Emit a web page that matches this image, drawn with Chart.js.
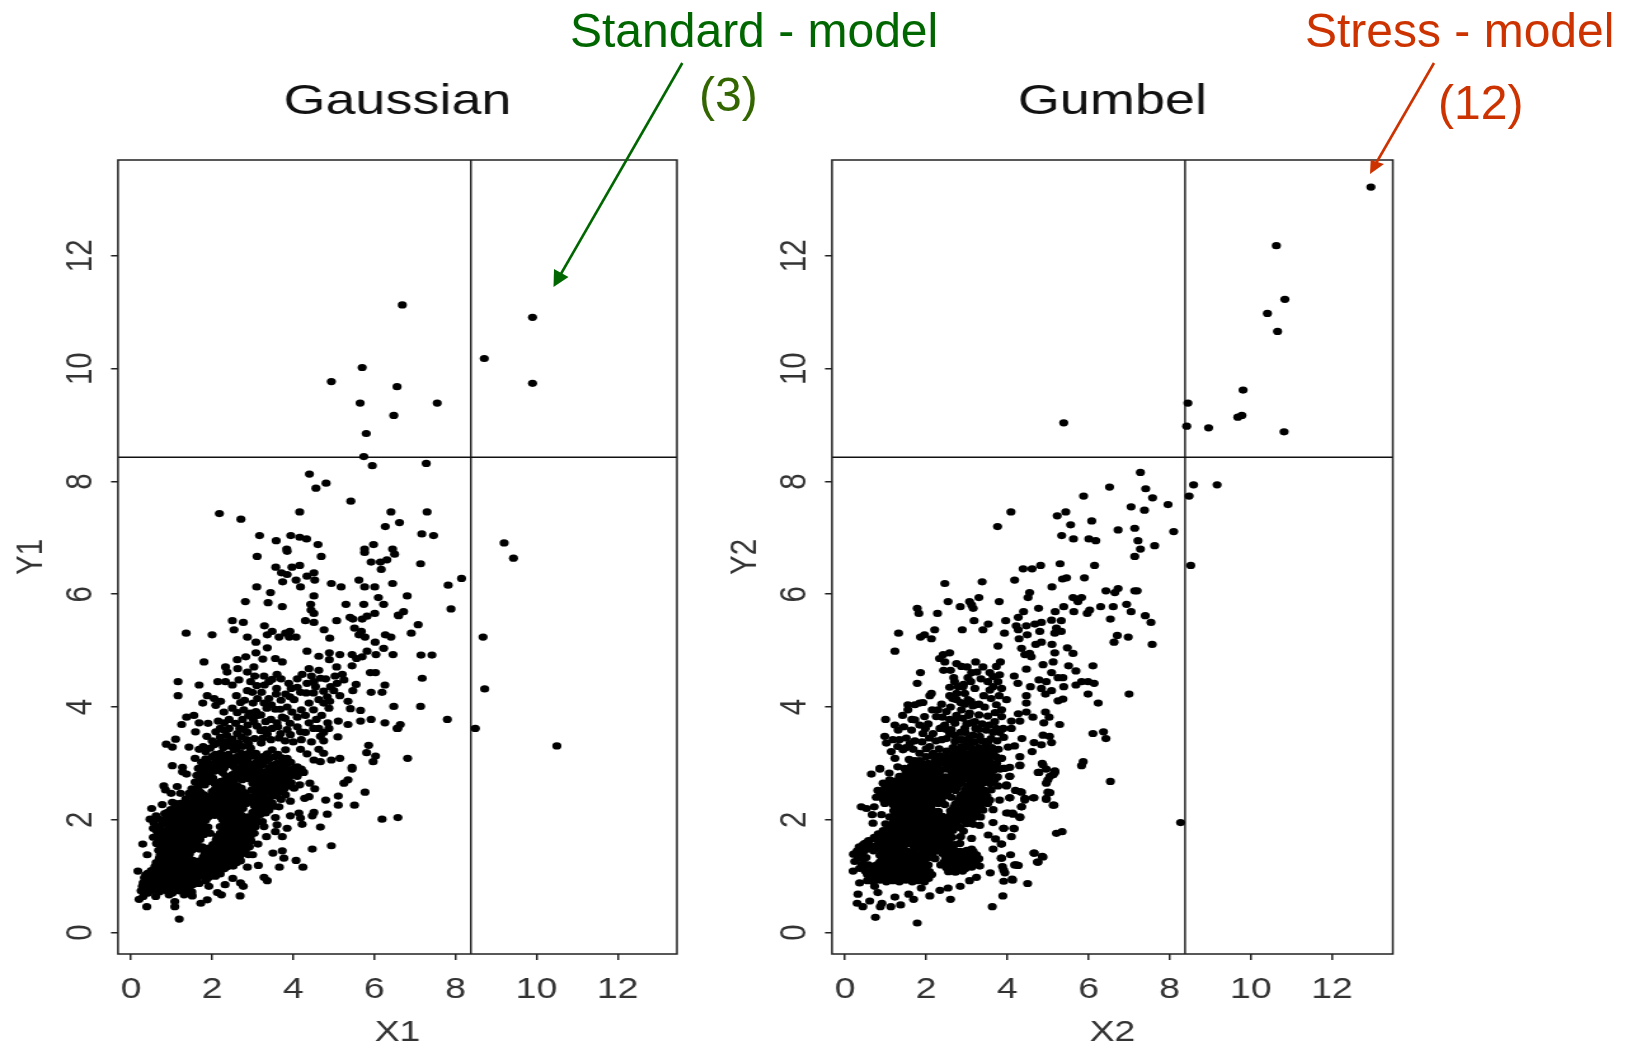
<!DOCTYPE html>
<html>
<head>
<meta charset="utf-8">
<title>Gaussian vs Gumbel</title>
<script src="https://cdn.jsdelivr.net/npm/chart.js@4/dist/chart.umd.min.js"></script>
<style>
  html, body { margin: 0; padding: 0; background: #fff; width: 1635px; height: 1048px; overflow: hidden; }
  canvas { position: absolute; top: 40px; transform-origin: 0 0; transform: scaleX(1.27); }
  #left-chart { left: 0; }
  #right-chart { left: 714px; }
  .note { position: absolute; font: 48px "Liberation Sans", Arial, sans-serif; line-height: 56px; white-space: nowrap; }
  svg { position: absolute; left: 0; top: 0; }
</style>
</head>
<body>
<canvas id="left-chart" width="590" height="1008"></canvas>
<canvas id="right-chart" width="590" height="1008"></canvas>

<div class="note" style="left:570px;top:3px;color:#006600">Standard - model</div>
<div class="note" style="left:699px;top:67px;color:#336600">(3)</div>
<div class="note" style="left:1305px;top:3px;color:#cc3300">Stress - model</div>
<div class="note" style="left:1438px;top:75px;color:#cc3300">(12)</div>

<svg width="1635" height="1048">
  <line x1="682.3" y1="63" x2="558" y2="279" stroke="#006600" stroke-width="2.6"/>
  <polygon points="553.5,287 554,269 568.5,277" fill="#006600"/>
  <line x1="1434" y1="63" x2="1375" y2="165" stroke="#cc3300" stroke-width="2.6"/>
  <polygon points="1370,174 1370.7,160 1384,164" fill="#cc3300"/>
</svg>

<script>
// tick labels and axis limits
const xTicks = [0, 2, 4, 6, 8, 10, 12];
const yTicks = [0, 2, 4, 6, 8, 10, 12];
const xMin = -0.32, yMin = -0.38, yMax = 13.7;
const gaussianXMax = 13.46, gumbelXMax = 13.5;
// quantile lines
const cutX = 8.38;
const cutY = 8.43;

// all point lists are flat: x, y, x, y, ...
// Gaussian - sparse points above y = 6.7
const gaussianUpper = [6.69,11.13,9.9,10.91,8.71,10.18,9.9,9.74,5.7,10.02,4.94,9.77,6.56,9.68,5.65,9.39,7.55,9.39,6.48,9.17,5.8,8.85,5.74,8.44,5.95,8.28,7.28,8.32,4.4,8.13,4.81,7.97,4.56,7.88,5.42,7.65,2.18,7.43,2.71,7.33,4.16,7.46,6.41,7.46,7.3,7.46,6.62,7.27,6.27,7.2,7.17,7.07,7.46,7.04,9.2,6.91,3.17,7.04,3.58,6.95,3.94,7.04,4.16,7.01,4.33,6.98,4.61,6.88,5.98,6.88,3.84,6.8,5.76,6.8,6.45,6.8];
// Gaussian - middle band
const gaussianMiddle = [3.11,6.67,3.85,6.76,4.69,6.67,5.76,6.74,6.5,6.71,3.57,6.48,3.97,6.48,4.16,6.51,5.92,6.57,6.15,6.57,6.31,6.61,6.17,6.44,3.71,6.38,3.85,6.35,4.51,6.38,4.34,6.32,4.53,6.25,3.74,6.22,4.07,6.25,4.18,6.13,3.1,6.13,3.44,6.03,4.94,6.19,5.18,6.13,5.62,6.25,5.76,6.13,6.01,6.13,6.45,6.19,4.51,5.97,6.1,5.94,2.82,5.87,3.38,5.85,3.73,5.78,4.43,5.82,5.3,5.82,5.74,5.82,6.23,5.82,4.44,5.72,4.51,5.66,2.5,5.53,2.77,5.5,4.3,5.53,4.51,5.5,5.07,5.53,5.4,5.59,5.47,5.56,5.7,5.56,5.82,5.61,6.01,5.66,6.59,5.63,3.29,5.44,2.54,5.37,1.36,5.31,2,5.28,3.48,5.34,3.36,5.28,2.87,5.24,3.65,5.24,3.81,5.31,3.92,5.34,3.9,5.24,4.07,5.24,4.76,5.37,4.9,5.22,5.51,5.4,5.62,5.28,5.68,5.34,5.77,5.24,6.27,5.28,6.41,5.24,3.08,5.15,6.02,5.15,3.36,5.05,6.23,5.04,4.34,4.99,3.08,4.96,4.63,4.9,4.89,4.96,5.15,4.93,5.45,4.93,5.82,4.99,5.7,4.89,5.56,4.86,6.04,4.93,6.46,4.93,1.8,4.8,2.62,4.84,2.83,4.89,3.25,4.85,3.56,4.86,3.73,4.8,4.89,4.84,5.45,4.73,2.33,4.71,2.63,4.68,3.03,4.71,5.07,4.71,4.39,4.68,4.63,4.65,2.37,4.62,2.87,4.62,3.05,4.55,5.9,4.61,6.03,4.61,4.22,4.58,3.6,4.58,3.28,4.55,3.48,4.49,5.21,4.58,5.03,4.55,1.16,4.45,1.68,4.39,2.14,4.45,2.33,4.45,2.5,4.39,2.66,4.48,2.95,4.45,3.29,4.39,3.89,4.42,3.95,4.33,3.59,4.33,4.34,4.42,4.51,4.45,4.67,4.51,4.55,4.36,4.92,4.36,5.08,4.42,5.25,4.48,6.26,4.39,1.16,4.2,5.47,4.29,5.92,4.26,6.19,4.26,1.88,4.2,2.05,4.15,2.21,4.1,2.6,4.2,2.87,4.29,2.99,4.26,3.22,4.26,3.58,4.23,3.81,4.23,4.18,4.26,4.02,4.13,4.63,4.13,4.84,4.18,5,4.29,5.15,4.2,1.77,4.07,2.09,4.03,2.5,3.98,2.7,4.08,3.01,4.07,3.28,4.07,3.46,4.04,3.56,3.96,4.39,4.07,4.75,4.07,4.88,3.98,6.48,4.01,5.41,3.97,5.66,3.94,2.29,3.91,2.95,3.89,3.2,3.86,3.97,3.91,4.2,3.95,1.37,3.82,1.55,3.85,3.73,3.82,2.42,3.78,3.03,3.74,3.32,3.74,4.57,3.78,5.11,3.75,5.66,3.75,5.92,3.78,1.25,3.69,1.68,3.72,1.9,3.71,2.58,3.71,3.11,3.66,3.48,3.62,3.92,3.71,4.39,3.72,5.35,3.69,6.26,3.72,6.56,3.62,1.59,3.56,2.09,3.56,2.29,3.59,2.62,3.53,2.87,3.55,3.69,3.53,3.93,3.51,4.18,3.56,4.63,3.62,4.88,3.62,4.67,3.48,5.1,3.47,1.1,3.43,1.87,3.48,0.87,3.34,1.02,3.29,1.43,3.29,1.68,3.25,2.05,3.33,2.41,3.39,2.66,3.36,3.21,3.36,3.65,3.45,5.86,3.32,5.81,3.19,6.03,3.13,5.97,3.03,1.58,3.09,1.84,3.21,2.21,3.18,2.54,3.24,2.95,3.27,3.48,3.24,3.36,3.17,3.81,3.24,4.18,3.25,4.63,3.25,4.75,3.18,3.85,3.09,4.34,3.17,4.51,3.06,4.67,3.03,4.94,3.06,5.15,3.09,1.02,2.96,1.27,2.93,2.05,3,2.54,3,2.87,3.06,3.2,3,3.77,3,4.1,2.94,5.45,2.93];
// Gaussian - right of the cloud
const gaussianRight = [7.14,6.54,9.43,6.64,8.15,6.28,7.82,6.16,6.81,5.97,7.89,5.74,6.72,5.69,6.6,5.62,7.08,5.46,6.91,5.31,8.68,5.24,7.15,4.92,7.42,4.92,7.18,4.51,8.72,4.32,7.14,4.01,7.8,3.78,6.64,3.69,6.58,3.62,8.49,3.62,10.5,3.31,6.82,3.09,6.19,2.01,6.58,2.04];
// Gaussian - outline of the dense cloud
const gaussianEdge = [1.27,2.85,1.37,2.81,0.81,2.6,0.85,2.53,0.99,2.47,1.14,2.59,1.22,2.47,1.43,2.47,0.51,2.2,0.77,2.27,1.08,2.29,0.83,2.11,0.47,2.01,0.69,2.01,0.55,1.85,0.73,1.85,0.55,1.69,0.29,1.57,0.4,1.38,0.72,1.38,0.67,1.18,0.17,1.09,0.36,1.02,0.28,0.82,0.57,0.96,0.3,0.64,0.2,0.59,0.39,0.46,0.61,0.64,0.94,0.67,1.08,0.46,1.08,0.55,1.19,0.24,1.72,0.52,1.88,0.58,2.13,0.71,2.23,0.67,2.69,0.65,1.31,0.67,1.51,0.65,1.92,0.82,2.32,0.85,2.51,0.96,2.7,0.88,2.77,0.82,3.28,0.98,3.36,0.92,2.87,1.16,3.14,1.19,3.66,1.16,4.24,1.16,4.07,1.28,3.77,1.32,3.5,1.41,3.73,1.45,3,1.38,3.13,1.57,4.47,1.48,4.94,1.54,3.73,1.7,3.56,1.79,3.34,1.7,3.28,1.88,3.85,1.85,4.67,1.87,4.22,1.92,4.84,2.1,4.51,2.13,4.47,2.07,4.14,2.12,3.93,2.07,4.18,2.03,3.56,2.04,3.18,2.09,3.24,1.97,3.6,1.91,3.65,2.23,5.51,2.26,5.11,2.26,5.11,2.42,4.8,2.35,5.77,2.49,4.39,2.41,4.28,2.38,3.93,2.33,3.81,2.44,3.48,2.42,3.28,2.36,4.53,2.55,4.41,2.65,5.25,2.65,5.35,2.71,5.45,2.9,4.26,2.84,4.16,2.62,4.02,2.56,4.1,2.77,3.85,2.65,3.69,2.59,3.52,2.74,3.4,2.91,3.11,2.47,3.19,2.62,2.95,2.74,2.7,2.83,2.54,2.94,2.46,2.71];
// Gaussian - dense cloud, read row by row
const gaussianCore = [0.25,0.74,0.42,0.7,0.55,0.75,0.7,0.72,0.88,0.74,1.02,0.7,1.18,0.74,1.35,0.76,1.5,0.72,
0.3,0.88,0.45,0.83,0.6,0.86,0.76,0.84,0.92,0.87,1.06,0.83,1.2,0.86,1.36,0.88,1.52,0.85,1.68,0.87,
0.33,0.97,0.5,1,0.66,0.97,0.82,1,0.98,0.96,1.12,1,1.28,0.97,1.44,1,1.6,0.97,1.76,1,1.92,0.98,2.08,1,
0.5,1.1,0.68,1.12,0.84,1.09,1,1.12,1.16,1.1,1.33,1.12,1.49,1.09,1.66,1.12,1.82,1.1,1.98,1.12,2.14,1.1,2.3,1.13,
0.62,1.24,0.8,1.21,0.96,1.24,1.12,1.21,1.28,1.24,1.45,1.21,1.62,1.24,1.78,1.21,1.94,1.24,2.1,1.21,2.27,1.24,2.44,1.22,2.6,1.24,
0.7,1.32,0.86,1.34,1.03,1.31,1.2,1.34,1.36,1.31,1.85,1.33,2.02,1.31,2.18,1.34,2.35,1.31,2.52,1.34,2.68,1.31,1.78,1.34,
0.68,1.46,0.85,1.44,1.02,1.47,1.18,1.44,1.34,1.47,1.5,1.46,1.68,1.48,1.84,1.45,2,1.47,2.16,1.44,2.33,1.47,2.5,1.44,2.66,1.47,2.82,1.46,
0.63,1.58,0.8,1.56,0.97,1.59,1.13,1.56,1.3,1.59,1.46,1.56,1.63,1.59,2.02,1.56,2.2,1.59,2.36,1.56,2.52,1.59,2.7,1.56,2.86,1.59,
0.74,1.7,0.9,1.68,1.07,1.71,1.24,1.68,1.4,1.71,1.56,1.68,1.72,1.72,2.12,1.7,2.28,1.68,2.45,1.71,2.62,1.68,2.78,1.7,2.94,1.68,
0.62,1.82,0.86,1.8,1.02,1.83,1.18,1.8,1.34,1.83,1.5,1.8,1.67,1.83,1.83,1.8,2.3,1.82,2.46,1.8,2.63,1.83,2.8,1.8,2.96,1.82,
0.56,1.95,0.78,1.93,0.95,1.96,1.12,1.93,1.28,1.96,1.44,1.93,1.6,1.96,1.76,1.93,2.32,1.94,2.5,1.95,2.66,1.92,2.84,1.96,3,1.93,3.1,1.95,
0.62,2.07,0.92,2.05,1.08,2.08,1.25,2.05,1.41,2.08,1.58,2.05,1.74,2.08,1.9,2.05,2.06,2.08,2.22,2.05,2.38,2.08,2.55,2.05,2.72,2.08,2.88,2.05,3.04,2.08,
0.98,2.18,1.15,2.2,1.32,2.17,1.48,2.2,1.64,2.17,1.8,2.2,1.96,2.17,2.12,2.2,2.28,2.17,2.44,2.2,2.6,2.17,2.76,2.2,3.08,2.17,3.25,2.2,3.4,2.17,
1.02,2.31,1.22,2.29,1.38,2.32,1.55,2.29,1.72,2.32,1.88,2.29,2.04,2.32,2.2,2.29,2.36,2.32,2.52,2.29,2.68,2.32,2.84,2.29,3,2.32,3.16,2.29,3.32,2.31,3.48,2.3,
1.48,2.43,1.64,2.41,1.8,2.44,1.96,2.41,2.12,2.44,2.28,2.41,2.44,2.44,2.6,2.41,2.76,2.44,2.92,2.41,3.08,2.44,3.24,2.43,3.6,2.42,
1.5,2.55,1.66,2.53,2.08,2.55,2.24,2.53,2.4,2.56,2.56,2.53,2.72,2.56,2.98,2.53,3.14,2.56,3.3,2.53,3.46,2.56,3.62,2.53,3.78,2.55,
1.58,2.67,1.74,2.65,1.9,2.68,2.06,2.65,2.22,2.68,2.38,2.65,2.54,2.68,3,2.65,3.16,2.68,3.32,2.65,3.48,2.68,3.64,2.65,3.95,2.66,
1.62,2.79,1.78,2.77,1.94,2.8,2.34,2.77,2.5,2.8,2.66,2.77,2.82,2.8,2.98,2.77,3.14,2.8,3.3,2.77,3.46,2.8,3.62,2.77,3.78,2.8,3.94,2.78,
1.66,2.91,1.82,2.89,1.98,2.92,2.14,2.89,2.3,2.92,2.66,2.89,2.84,2.92,3,2.89,3.16,2.92,3.56,2.89,3.72,2.92,3.88,2.89,4.04,2.92,4.2,2.9,
1.74,3.02,1.92,3,2.1,3.03,2.3,3,2.72,3.03,3.06,3,3.3,3.03,3.6,3,3.94,3.02,
2,3.12,2.15,3.1,2.32,3.13,2.48,3.1,2.64,3.13,2.8,3.1,3,3.13,3.12,3.1,3.55,3.12,3.72,3.1,
1.78,3.3,1.95,3.27,2.28,3.28,2.44,3.31,2.6,3.27,2.75,3.3,2.9,3.35,2.2,3.46,2.36,3.5,2.5,3.43,2.72,3.47,2.78,3.6,3,3.8,3.12,3.85,3.3,3.6];
// Gaussian - points between the rows of the core
const gaussianFill = [0.33,0.79,0.51,0.78,0.66,0.8,0.81,0.77,0.97,0.8,1.12,0.78,1.28,0.8,1.44,0.81,
0.4,0.93,0.54,0.91,0.69,0.92,0.85,0.93,1,0.92,1.15,0.91,1.31,0.93,1.47,0.91,1.63,0.92,1.85,0.92,
0.41,1.05,0.6,1.05,0.75,1.04,0.91,1.06,1.05,1.05,1.21,1.04,1.37,1.06,1.52,1.04,1.69,1.05,1.85,1.04,2.01,1.06,2.2,1.04,
0.59,1.17,0.77,1.16,0.92,1.17,1.08,1.15,1.25,1.17,1.41,1.16,1.58,1.18,1.74,1.16,1.9,1.17,2.06,1.15,2.22,1.17,2.38,1.17,2.52,1.18,
0.72,1.27,0.89,1.28,1.04,1.26,1.2,1.28,1.37,1.27,1.53,1.28,1.7,1.27,1.86,1.28,2.03,1.27,2.19,1.28,2.36,1.26,2.52,1.28,2.7,1.27,
0.77,1.39,0.94,1.4,1.11,1.38,1.28,1.4,1.44,1.39,1.82,1.4,1.94,1.38,2.1,1.4,2.26,1.38,2.43,1.4,2.6,1.38,2.76,1.4,2.9,1.38,
0.75,1.52,0.92,1.5,1.1,1.53,1.26,1.5,1.42,1.52,1.58,1.51,1.76,1.52,1.92,1.5,2.08,1.52,2.25,1.5,2.42,1.53,2.58,1.5,2.75,1.52,2.92,1.52,
0.7,1.63,0.88,1.63,1.05,1.65,1.22,1.63,1.38,1.65,1.54,1.62,1.7,1.65,2.1,1.64,2.28,1.62,2.44,1.65,2.61,1.62,2.78,1.64,2.96,1.62,
0.66,1.76,0.82,1.75,0.98,1.77,1.15,1.74,1.31,1.77,1.47,1.74,1.63,1.77,1.8,1.74,1.95,1.76,2.2,1.76,2.37,1.74,2.54,1.77,2.7,1.74,2.88,1.76,3.04,1.76,
0.68,1.88,0.94,1.87,1.1,1.9,1.26,1.87,1.42,1.9,1.58,1.87,1.74,1.9,1.9,1.87,2.2,1.88,2.38,1.87,2.55,1.9,2.72,1.87,2.9,1.88,3.06,1.87,
0.85,2,1.03,2.02,1.2,1.99,1.36,2.02,1.52,1.99,1.68,2.02,1.84,1.99,2.26,2,2.42,2.01,2.58,1.98,2.76,2.01,2.92,1.99,3.08,2.01,
0.9,2.13,1.06,2.14,1.24,2.12,1.4,2.14,1.56,2.12,1.72,2.14,1.88,2.12,2.04,2.14,2.2,2.12,2.36,2.14,2.52,2.12,2.68,2.14,3,2.13,3.16,2.14,3.32,2.12,
1.1,2.25,1.3,2.24,1.46,2.26,1.62,2.24,1.78,2.26,1.94,2.24,2.1,2.26,2.26,2.24,2.42,2.26,2.58,2.24,2.74,2.26,3.04,2.25,3.2,2.24,3.36,2.26,3.52,2.24,
1.35,2.37,1.56,2.36,1.72,2.38,1.88,2.36,2.04,2.38,2.2,2.36,2.36,2.38,2.52,2.36,2.68,2.38,2.84,2.36,3,2.38,3.16,2.36,3.4,2.38,3.7,2.36,
1.56,2.49,1.72,2.48,2,2.5,2.16,2.48,2.32,2.5,2.48,2.48,2.64,2.5,2.8,2.48,3.06,2.5,3.22,2.48,3.38,2.5,3.54,2.48,3.7,2.5,
1.65,2.6,1.82,2.62,2.14,2.61,2.3,2.6,2.46,2.62,2.62,2.6,3.08,2.61,3.24,2.6,3.4,2.62,3.56,2.6,3.72,2.62,3.88,2.6,
1.7,2.72,1.86,2.73,2.02,2.74,2.42,2.72,2.58,2.74,2.74,2.71,2.9,2.73,3.06,2.72,3.22,2.74,3.38,2.72,3.54,2.74,3.7,2.72,3.86,2.74,
1.74,2.85,1.9,2.84,2.06,2.86,2.26,2.84,2.58,2.84,2.76,2.86,2.92,2.84,3.08,2.86,3.24,2.85,3.4,2.84,3.64,2.85,3.8,2.84,3.96,2.86,4.12,2.84,
1.76,2.97,1.9,2.96,2.06,2.98,2.22,2.96,2.38,2.98,2.74,2.96,2.92,2.98,3.08,2.96,3.24,2.98,3.48,2.97,3.68,2.96,3.84,2.98,
1.84,3.08,2.2,3.06,2.4,3.06,2.56,3.08,2.72,3.1,2.08,3.16,2.4,3.16,2.72,3.18,2.9,3.18,3.08,3.18,3.26,3.12,3.4,3.08,3.62,3.16,
2,3.4,2.15,3.36,2.32,3.38,2.52,3.35,2.85,3.42,3.05,3.44,3.25,3.45,3.45,3.42,3.8,3.4,4,3.38,4.2,3.42,4.45,3.38,4.75,3.4,
2.2,3.62,2.42,3.62,2.68,3.62,2.88,3.68,3.2,3.58,3.36,3.52,3.62,3.65,3.85,3.6,4.1,3.65,4.3,3.55,4.5,3.62,4.75,3.55,
2.15,3.75,2.3,3.72,2.75,3.78,2.9,3.85,3.08,3.92,3.45,3.78,3.6,3.72,3.8,3.8,4.1,3.82,4.3,3.85,4.7,3.85,4.85,3.72,
2.62,3.9,2.78,3.95,3.35,3.98,3.68,3.96,3.85,4,4.5,3.95,2.8,4.12,3.12,4.15,3.4,4.15,3.7,4.12,3.92,4.18,4.1,4.35,4.32,4.25,4.5,4.25,4.75,4.28,4.9,4.1,
3.1,4.38,3.4,4.45,3.7,4.5,4.1,4.5,4.45,4.55,4.8,4.5,5.35,4.1,5.55,4.4];

// Gumbel - sparse points above y = 6.8
const gumbelUpper = [12.96,13.22,10.63,12.18,10.84,11.23,10.41,10.98,10.66,10.66,9.81,9.62,8.45,9.39,9.78,9.17,9.68,9.14,8.42,8.98,8.96,8.95,10.82,8.88,5.39,9.04,7.28,8.16,6.52,7.9,7.41,7.87,8.59,7.94,9.17,7.94,8.48,7.74,5.88,7.74,7.58,7.71,7.96,7.59,7.05,7.55,7.38,7.49,4.09,7.46,5.44,7.46,5.23,7.39,5.56,7.23,6.08,7.3,3.76,7.2,6.73,7.14,7.14,7.17,8.1,7.11,5.34,7.04,5.63,6.98,6.01,6.98,6.18,6.95,7.22,6.95,7.63,6.86,7.28,6.8];
// Gumbel - right half of the middle band
const gumbelRight = [8.52,6.51,7.14,6.67,4.82,6.51,4.61,6.45,4.39,6.45,5.3,6.54,6.15,6.51,4.18,6.25,5.36,6.27,5.46,6.29,5.9,6.29,5.1,6.13,6.43,6.06,6.65,6.03,6.73,6.1,7.14,6.06,7.2,6.06,4.55,6.03,4.51,5.94,5.62,5.94,5.72,5.91,5.83,5.94,5.74,5.87,6.94,5.82,6.3,5.78,6.61,5.78,4.77,5.75,5.39,5.78,4.4,5.69,5.18,5.69,5.64,5.69,6.03,5.72,5.97,5.66,7.05,5.69,7.4,5.62,7.54,5.5,6.54,5.56,4.27,5.59,5.09,5.54,5.33,5.53,3.96,5.53,4.84,5.5,4.68,5.47,4.47,5.44,4.22,5.44,4.27,5.37,4.8,5.34,5.21,5.4,5.17,5.31,5.33,5.34,3.93,5.31,4.49,5.28,4.29,5.21,6.71,5.27,6.98,5.24,6.63,5.15,7.57,5.11,4.84,5.15,4.7,5.11,5.1,5.11,5.48,5.05,4.35,5.04,5.62,4.95,5.17,4.96,4.43,4.93,4.59,4.89,4.55,4.95,5.13,4.8,4.88,4.75,5.51,4.73,6.11,4.73,4.47,4.67,5.69,4.64,5.09,4.61,4.17,4.55,5.25,4.52,5.37,4.52,4.78,4.48,4.96,4.45,4.26,4.42,4.57,4.36,5.39,4.36,5.69,4.39,5.83,4.45,5.99,4.45,6.14,4.42,4.84,4.33,5.09,4.29,4.94,4.23,5.99,4.23,7,4.23,4.47,4.2,5.25,4.11,5.37,4.14,6.24,4.07,4.47,4.07,3.98,4.13,4.94,3.91,5.03,3.82,4.27,3.88,4.47,3.91,4.63,3.82,4.31,3.75,4.9,3.72,5.29,3.69,4.1,3.75,3.9,3.62,4.1,3.62,6.11,3.53,6.37,3.56,6.43,3.44,4.88,3.5,5.04,3.48,5.09,3.37,4.84,3.33,4.66,3.37,4.36,3.44,3.91,3.46,4.18,3.31,4.02,3.29,4.61,3.21,4.31,3.12,3.85,3.09,5.87,3.03,5.83,2.96,4.86,3,4.31,2.96,4.06,2.93,3.94,2.91,4.96,2.9,5.17,2.87,4.78,2.84,5.13,2.8,5,2.71,4.06,2.77,6.54,2.68,3.98,2.62,4.2,2.52,4.35,2.49,5.05,2.48,4.43,2.38,4.06,2.39,4.64,2.39,4.96,2.36,5.13,2.26,4.35,2.23,4.02,2.12,4.14,2.1,4.31,2.04,8.27,1.95,3.91,1.85,4.16,1.85,4.1,1.7,5.21,1.76,5.35,1.79,3.85,1.57,4.08,1.38,4.66,1.41,4.86,1.35,4.74,1.25,4.18,1.2,4.27,1.19,3.85,1.32,3.91,1.11,4.12,0.95];
// Gumbel - left half of the middle band
const gumbelLeft = [2.46,6.19,3.38,6.22,2.54,5.87,3.07,5.87,3.3,5.94,3.8,5.87,2.84,5.78,3.16,5.75,3.12,5.81,1.78,5.75,1.82,5.66,2.28,5.66,3.18,5.53,3.53,5.47,3.4,5.37,2.89,5.37,2.21,5.37,1.32,5.31,1.86,5.24,1.96,5.28,2.13,5.21,3.77,5.08,1.23,4.99,2.58,4.96,2.42,4.93,2.33,4.86,2.46,4.8,3.22,4.8,2.75,4.77,2.87,4.72,3.01,4.71,3.83,4.8,3.4,4.71,3.73,4.72,2.43,4.65,1.86,4.61,3.12,4.61,3.57,4.61,3.81,4.57,2.68,4.52,3.03,4.52,3.65,4.54,1.78,4.42,3.77,4.45,2.79,4.36,2.91,4.36,3.2,4.33,3.65,4.36,3.86,4.33,2.13,4.24,2.09,4.2,2.58,4.2,2.75,4.24,2.95,4.24,3.42,4.2,3.57,4.3,2.75,4.13,3.03,4.13,1.55,4.04,1.84,4.07,1.72,4.04,1.92,4.08,3.24,4.04,3.44,4,3.73,4.04,1.55,3.95,2.29,3.95,2.5,3.92,2.87,3.95,3.07,3.89,3.86,3.95,1,3.78,1.72,3.77,1.96,3.83,2.25,3.83,2.91,3.8,3.2,3.74,3.69,3.74,3.86,3.83,1.23,3.68,1.84,3.68,2.42,3.65,2.71,3.71,1.31,3.59,1.64,3.59,1.92,3.53,2.17,3.53,2.58,3.53,2.95,3.62,3.48,3.59,3.65,3.55,0.98,3.48,1.51,3.45,2.38,3.42,2.71,3.39,3.32,3.48,1.02,3.36,1.18,3.42,1.6,3.35,2.09,3.3,2.87,3.3,3.12,3.36,3.53,3.39,1.14,3.21,1.43,3.24,1.84,3.18,2.17,3.18,2.46,3.09,3.24,3.24,3.44,3.21,3.65,3.18,1.23,3.09,1.84,3.05,2.25,3.05,2.66,3.12,3.16,3.09,3.86,3.09,0.86,2.91,1.47,2.91,1.88,2.91,2.66,3,3.03,2.91,3.24,3,3.57,2.94];
// Gumbel - outline of the dense cloud
const gumbelEdge = [0.65,2.81,0.86,2.9,1.09,2.83,0.94,2.65,0.81,2.52,0.77,2.4,0.4,2.23,0.53,2.2,0.72,2.23,0.67,2.09,0.9,2.09,0.69,1.94,0.94,1.81,0.73,1.67,0.49,1.58,0.39,1.5,0.21,1.39,0.81,1.5,0.24,1.26,0.45,1.29,0.2,1.09,0.36,1.14,0.65,0.96,0.36,0.88,0.73,0.82,0.81,0.71,0.32,0.68,0.3,0.52,0.44,0.46,0.61,0.56,0.87,0.46,0.91,0.52,1.13,0.46,1.37,0.49,0.75,0.27,1.78,0.17,1.23,0.63,1.57,0.68,1.69,0.59,2.09,0.65,2.6,0.59,3.63,0.46,3.89,0.65,4.5,0.87,4.13,0.93,3.91,0.91,3.24,0.98,3.07,0.92,2.84,0.82,2.34,0.75,2.54,0.79,1.88,0.79,3.58,1.06,3.94,1.06,4.22,1.2,3.88,1.17,3.32,1.18,4.76,1.25,4.88,1.34,4.66,1.41,3.86,1.32,4.17,1.84,3.91,1.85,3.65,1.95,3.32,1.9,3.53,1.73,3.71,1.66,3.86,1.57,3.65,1.48,3.12,1.67,2.83,1.58,3.12,1.48,3.24,1.38,4.31,2.05,4.13,2.12,3.98,2.12,4.35,2.23,4.06,2.39,4.43,2.35,4.66,2.39,4.31,2.5,5,2.49,4.96,2.38,5.15,2.26,3.65,2.18,3.81,2.35,3.57,2.35,3.44,2.44,3.69,2.71,3.77,2.6,3.98,2.6,4.06,2.77,3.9,2.91,4.31,2.97,4.76,2.84,4.88,2.97,5.17,2.84,4.96,2.65,5.05,2.77];
// Gumbel - dense cloud, read row by row
const gumbelCore = [0.55,0.92,0.7,0.9,0.86,0.93,1.02,0.9,1.18,0.92,1.34,0.9,1.5,0.93,1.66,0.9,1.8,0.92,1.96,0.9,
0.55,1.03,0.72,1,0.88,1.03,1.04,1,1.2,1.03,1.36,1,1.52,1.03,1.68,1,1.84,1.03,2,1,2.14,1.03,
0.46,1.15,0.7,1.13,0.86,1.16,1.02,1.13,1.18,1.16,1.34,1.13,1.5,1.16,1.66,1.13,1.82,1.16,1.98,1.13,2.5,1.15,2.66,1.13,2.82,1.16,2.96,1.13,3.12,1.16,
0.86,1.25,1.02,1.28,1.18,1.25,1.34,1.28,1.5,1.25,1.66,1.28,1.82,1.25,1.96,1.28,2.44,1.25,2.6,1.28,2.76,1.25,2.92,1.28,3.08,1.25,3.24,1.27,
0.25,1.4,0.42,1.38,0.86,1.37,1.02,1.4,1.18,1.37,1.34,1.4,1.5,1.37,1.66,1.4,1.82,1.37,1.98,1.4,2.14,1.37,2.4,1.4,2.56,1.37,2.72,1.4,2.9,1.37,3.06,1.4,
0.35,1.52,0.55,1.49,0.96,1.5,1.12,1.53,1.28,1.5,1.44,1.53,1.82,1.5,1.98,1.53,2.14,1.5,2.3,1.53,2.46,1.5,2.62,1.53,
0.58,1.63,0.95,1.62,1.12,1.6,1.28,1.63,1.44,1.6,1.6,1.63,1.76,1.6,1.92,1.63,2.08,1.6,2.24,1.63,2.4,1.6,2.56,1.63,
0.82,1.75,0.98,1.73,1.14,1.76,1.3,1.73,1.46,1.76,1.62,1.73,1.78,1.76,1.94,1.73,2.1,1.76,2.26,1.73,2.42,1.76,2.58,1.73,
1.08,1.87,1.24,1.85,1.4,1.88,1.56,1.85,1.72,1.88,1.88,1.85,2.04,1.88,2.2,1.85,2.36,1.88,2.52,1.85,2.68,1.88,2.84,1.86,
1.2,1.99,1.36,1.97,1.52,2,1.68,1.97,1.84,2,2,1.97,2.16,2,2.32,1.97,2.48,2,2.64,1.97,2.8,2,2.96,1.97,3.1,2,
1.26,2.1,1.42,2.08,1.58,2.11,1.74,2.08,1.9,2.11,2.06,2.08,2.22,2.11,2.6,2.08,2.76,2.11,2.92,2.08,3.08,2.11,3.24,2.09,
1.3,2.23,1.46,2.21,1.62,2.24,1.78,2.21,1.94,2.24,2.1,2.21,2.68,2.22,2.84,2.24,3,2.21,3.16,2.24,3.32,2.22,
0.95,2.35,1.1,2.33,1.26,2.36,1.42,2.33,1.58,2.36,1.74,2.33,1.9,2.36,2.06,2.33,2.22,2.36,2.38,2.33,2.8,2.35,2.96,2.33,3.12,2.36,3.28,2.33,3.44,2.36,
0.92,2.47,1.08,2.45,1.24,2.48,1.4,2.45,1.56,2.48,1.72,2.45,1.88,2.48,2.04,2.45,2.2,2.48,2.36,2.45,2.52,2.48,2.9,2.45,3.06,2.48,3.22,2.45,3.38,2.48,
1,2.59,1.16,2.57,1.32,2.6,1.48,2.57,1.64,2.6,1.8,2.57,1.96,2.6,2.12,2.57,2.28,2.6,2.44,2.57,2.6,2.6,2.76,2.57,3.02,2.6,3.18,2.57,3.34,2.6,
1.1,2.71,1.26,2.69,1.42,2.72,1.6,2.69,1.76,2.72,1.92,2.69,2.08,2.72,2.24,2.69,2.4,2.72,2.56,2.69,2.72,2.72,2.88,2.69,3.04,2.72,3.2,2.69,3.36,2.72,3.52,2.7,
1.5,2.83,1.68,2.81,1.84,2.84,2,2.81,2.16,2.84,2.32,2.81,2.64,2.84,2.8,2.81,2.96,2.84,3.12,2.81,3.28,2.84,3.44,2.81,3.6,2.84,
1.3,2.94,1.64,2.96,1.8,2.93,1.96,2.96,2.12,2.93,2.28,2.96,2.5,2.93,2.7,2.96,2.86,2.93,3.02,2.96,3.18,2.93,3.34,2.96,3.5,2.93,3.66,2.96,
1.58,3.07,1.72,3.05,2.36,3.05,2.58,3.08,2.74,3.05,2.9,3.08,3.06,3.05,3.22,3.08,3.38,3.05,3.54,3.08,
2.68,3.18,2.84,3.2,3,3.17,3.16,3.2,3.32,3.17,3.48,3.2,
2.9,3.42,3.06,3.45,3.2,3.38,3.3,3.6,2.96,3.55,3.22,3.62,3.1,3.72,2.58,3.78,2.46,3.68,2.62,3.6,2.75,3.85,2.6,4,2.95,4.05,3.15,4.02];
// Gumbel - points between the rows of the core
const gumbelFill = [0.62,0.98,0.78,0.96,0.94,0.98,1.1,0.96,1.26,0.98,1.42,0.96,1.58,0.98,1.74,0.96,1.9,0.98,2.06,0.96,
0.5,1.09,0.62,1.08,0.8,1.08,0.96,1.09,1.12,1.07,1.28,1.09,1.44,1.07,1.6,1.09,1.76,1.07,1.92,1.09,2.08,1.08,2.55,1.08,2.72,1.07,2.9,1.09,
0.42,1.21,0.58,1.2,0.78,1.2,0.94,1.22,1.1,1.19,1.26,1.22,1.42,1.19,1.58,1.22,1.74,1.19,1.9,1.22,2.05,1.2,2.36,1.2,2.52,1.22,2.68,1.19,2.84,1.22,3,1.2,3.16,1.22,
0.32,1.33,0.52,1.33,0.92,1.32,1.1,1.33,1.26,1.31,1.42,1.33,1.58,1.31,1.74,1.33,1.9,1.31,2.06,1.33,2.22,1.31,2.48,1.33,2.64,1.31,2.8,1.33,2.98,1.31,3.14,1.33,3.3,1.31,
0.3,1.45,0.48,1.45,0.7,1.45,0.9,1.44,1.06,1.46,1.22,1.44,1.38,1.46,1.54,1.44,1.7,1.46,1.9,1.44,2.06,1.46,2.22,1.44,2.38,1.46,2.54,1.44,2.7,1.46,2.84,1.44,3,1.46,3.16,1.44,
0.45,1.56,0.62,1.55,0.82,1.57,1.02,1.56,1.2,1.57,1.36,1.55,1.52,1.57,1.68,1.55,1.84,1.57,2,1.56,2.18,1.57,2.34,1.55,2.5,1.57,2.7,1.56,
0.72,1.69,0.88,1.67,1.04,1.69,1.2,1.67,1.36,1.69,1.52,1.67,1.68,1.69,1.84,1.67,2,1.69,2.16,1.67,2.32,1.69,2.48,1.67,2.64,1.69,2.85,1.7,
0.98,1.8,1.06,1.81,1.22,1.79,1.38,1.81,1.54,1.79,1.7,1.81,1.86,1.79,2.02,1.81,2.18,1.79,2.34,1.81,2.5,1.79,2.66,1.81,2.92,1.8,
1,1.93,1.16,1.92,1.32,1.94,1.48,1.92,1.64,1.94,1.8,1.92,1.96,1.94,2.12,1.92,2.28,1.94,2.44,1.92,2.6,1.94,2.76,1.92,3,1.93,3.16,1.92,
1.1,2.05,1.28,2.04,1.44,2.06,1.6,2.04,1.76,2.06,1.92,2.04,2.08,2.05,2.24,2.03,2.4,2.06,2.56,2.03,2.72,2.05,2.88,2.03,3.02,2.05,3.18,2.04,3.34,2.05,
1.2,2.16,1.34,2.15,1.5,2.17,1.66,2.15,1.82,2.17,1.98,2.15,2.14,2.17,2.3,2.15,2.6,2.16,2.76,2.17,2.92,2.15,3.08,2.17,3.24,2.15,3.4,2.17,
0.98,2.29,1.18,2.27,1.34,2.29,1.5,2.27,1.66,2.29,1.82,2.27,1.98,2.29,2.14,2.27,2.3,2.29,2.46,2.27,2.72,2.28,2.88,2.29,3.04,2.27,3.2,2.29,3.36,2.27,3.52,2.29,
0.85,2.41,1.02,2.4,1.18,2.42,1.34,2.4,1.5,2.42,1.66,2.4,1.82,2.42,1.98,2.4,2.14,2.42,2.3,2.4,2.46,2.42,2.62,2.4,2.84,2.41,3,2.4,3.16,2.42,3.32,2.4,3.5,2.42,
0.96,2.53,1.12,2.52,1.28,2.54,1.44,2.52,1.6,2.54,1.76,2.52,1.92,2.54,2.08,2.52,2.24,2.54,2.4,2.52,2.56,2.54,2.72,2.52,2.96,2.53,3.12,2.52,3.28,2.54,3.44,2.52,3.6,2.53,
1.08,2.65,1.24,2.64,1.4,2.66,1.56,2.64,1.72,2.66,1.88,2.64,2.04,2.66,2.2,2.64,2.36,2.66,2.52,2.64,2.68,2.66,2.84,2.64,3.1,2.65,3.26,2.64,3.42,2.66,3.58,2.64,
1.34,2.77,1.52,2.76,1.68,2.78,1.84,2.76,2,2.78,2.16,2.76,2.32,2.78,2.48,2.76,2.64,2.78,2.8,2.76,2.96,2.78,3.12,2.76,3.28,2.78,3.44,2.76,3.6,2.78,3.76,2.76,
1.56,2.89,1.72,2.88,1.88,2.9,2.04,2.88,2.2,2.9,2.36,2.88,2.52,2.9,2.7,2.88,2.86,2.9,3.02,2.88,3.18,2.9,3.34,2.88,3.5,2.9,3.66,2.88,3.82,2.9,
1.72,3,1.88,3.01,2.04,3,2.2,3.02,2.44,3,2.6,3.01,2.78,3,2.94,3.02,3.1,3,3.26,3.02,3.42,3,3.58,3.02,3.74,3,
2,3.12,2.2,3.11,2.34,3.14,2.52,3.12,2.76,3.12,2.92,3.14,3.08,3.12,3.24,3.14,3.4,3.12,3.56,3.14,3.72,3.12,
1.3,3.3,1.5,3.28,1.68,3.25,2,3.26,2.32,3.26,2.5,3.22,2.66,3.28,2.8,3.26,2.96,3.28,3.12,3.26,3.3,3.28,3.46,3.3,3.62,3.28,3.78,3.25,
1.34,3.42,1.72,3.4,1.9,3.38,2.24,3.4,2.5,3.44,2.7,3.5,2.82,3.42,3,3.36,3.15,3.5,3.38,3.4,3.6,3.44,3.75,3.4,
1.45,3.65,1.98,3.62,2.08,3.45,2.34,3.62,2.5,3.6,2.85,3.55,3,3.7,3.38,3.7,3.55,3.68,3.72,3.62,3.82,3.55,
1.42,3.85,1.65,3.78,2.05,3.7,2.4,3.82,2.75,3.8,3.05,3.85,3.3,3.86,3.52,3.84,3.7,3.9,
2.15,3.95,2.38,4.05,2.85,4.08,3.1,4.1,3.3,4.05,3.6,4.15,3.8,4.2,2.65,4.15,2.92,4.4,3.1,4.45,3.35,4.5,3.52,4.45,2.58,4.35,2.7,4.45,3.25,4.62,2.6,4.65];

// pairs up a flat x, y list
function toPoints(flat) {
    const pts = [];
    for (let i = 0; i < flat.length; i += 2) {
        pts.push({ x: flat[i], y: flat[i + 1] });
    }
    return pts;
}

// box round the plot area, R style
const framePlugin = {
    id: 'frame',
    afterDraw(chart) {
        const a = chart.chartArea;
        const ctx = chart.ctx;
        ctx.save();
        ctx.strokeStyle = '#222';
        ctx.lineWidth = 1.5;
        ctx.strokeRect(a.left, a.top, a.right - a.left, a.bottom - a.top);
        ctx.restore();
    }
};

const fontName = '"Liberation Sans", Arial, sans-serif';

function makeChart(id, title, xLabel, yLabel, points, xMax, rightPad) {
    const refStyle = { type: 'scatter', showLine: true, pointRadius: 0, borderColor: '#111', borderWidth: 1.4 };
    return new Chart(document.getElementById(id), {
        type: 'scatter',
        data: {
            datasets: [
                { data: points, backgroundColor: '#000', borderWidth: 0, pointRadius: 3.6 },
                { ...refStyle, data: [{ x: cutX, y: yMin }, { x: cutX, y: yMax }] },
                { ...refStyle, data: [{ x: xMin, y: cutY }, { x: xMax, y: cutY }] }
            ]
        },
        options: {
            responsive: false,
            animation: false,
            layout: { padding: { right: rightPad, bottom: 0 } },
            plugins: {
                legend: { display: false },
                tooltip: { enabled: false },
                title: {
                    display: true,
                    fullSize: false,
                    text: title,
                    color: '#111',
                    font: { family: fontName, size: 42.5, weight: 'normal', lineHeight: 1.2 },
                    padding: { top: 37, bottom: 32 }
                }
            },
            scales: {
                x: {
                    type: 'linear',
                    min: xMin,
                    max: xMax,
                    afterFit: s => { s.height = 94; },
                    afterBuildTicks: s => { s.ticks = xTicks.map(v => ({ value: v })); },
                    grid: { drawOnChartArea: false, color: '#222', tickLength: 6, lineWidth: 1.5 },
                    border: { display: false },
                    ticks: {
                        color: '#333',
                        padding: 12,
                        maxRotation: 0,
                        autoSkip: false,
                        font: { family: fontName, size: 29.5 }
                    },
                    title: { display: true, text: xLabel, color: '#333', font: { family: fontName, size: 29.5, lineHeight: 1 }, padding: { top: 0, bottom: 0 } }
                },
                y: {
                    type: 'linear',
                    min: yMin,
                    max: yMax,
                    afterFit: s => { s.width = 92.9; },
                    afterBuildTicks: s => { s.ticks = yTicks.map(v => ({ value: v })); },
                    grid: { drawOnChartArea: false, color: '#222', tickLength: 5.5, lineWidth: 1.5 },
                    border: { display: false },
                    ticks: {
                        color: '#333',
                        padding: 7.5,
                        minRotation: 90,
                        maxRotation: 90,
                        crossAlign: 'center',
                        autoSkip: false,
                        font: { family: fontName, size: 29.5 }
                    },
                    title: { display: true, text: yLabel, color: '#333', font: { family: fontName, size: 29.5 }, padding: { top: 7, bottom: 0 } }
                }
            }
        },
        plugins: [framePlugin]
    });
}

const gaussianPoints = toPoints([...gaussianUpper, ...gaussianMiddle, ...gaussianRight, ...gaussianEdge, ...gaussianCore, ...gaussianFill]);
const gumbelPoints = toPoints([...gumbelUpper, ...gumbelRight, ...gumbelLeft, ...gumbelEdge, ...gumbelCore, ...gumbelFill]);

makeChart('left-chart', 'Gaussian', 'X1', 'Y1', gaussianPoints, gaussianXMax, 57);
makeChart('right-chart', 'Gumbel', 'X2', 'Y2', gumbelPoints, gumbelXMax, 55.5);
</script>
</body>
</html>
